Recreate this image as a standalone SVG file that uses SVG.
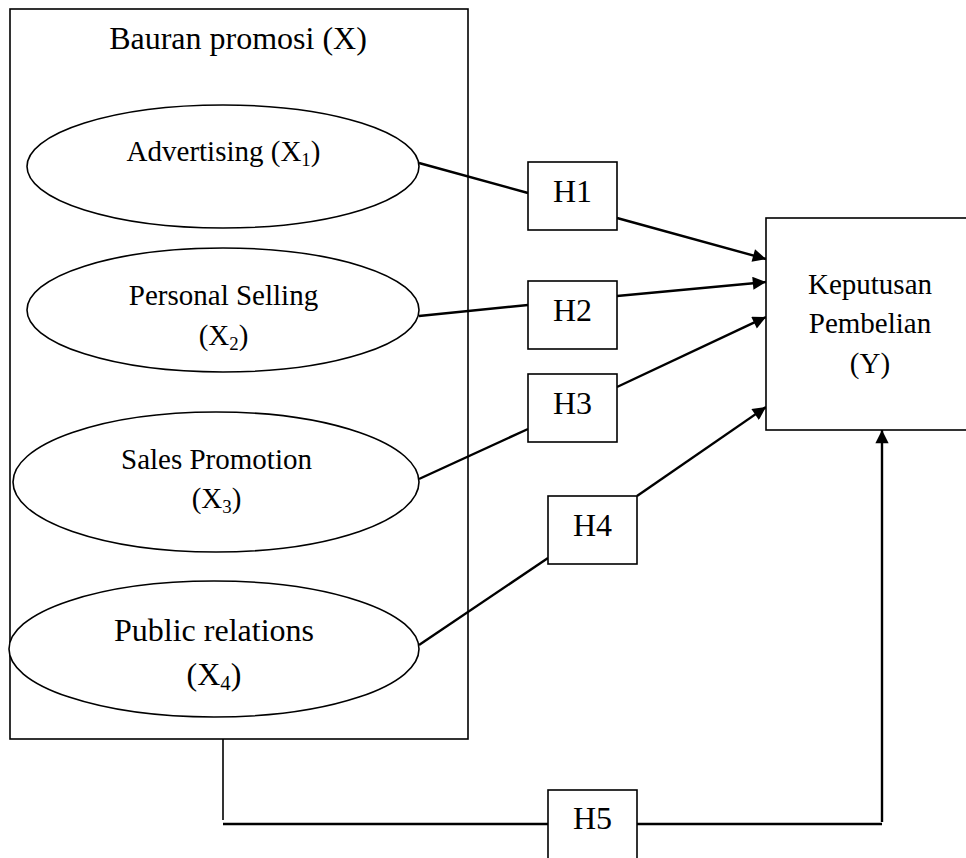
<svg xmlns="http://www.w3.org/2000/svg" width="966" height="858" viewBox="0 0 966 858">
<style>
  text { font-family: "Liberation Serif", "Times New Roman", serif; fill: #000; text-anchor: middle; }
  .box { fill: #fff; stroke: #000; stroke-width: 1.6; }
  .ell { fill: #fff; stroke: #000; stroke-width: 1.6; }
  .con { fill: none; stroke: #000; stroke-width: 2.4; }
  .thin { fill: none; stroke: #000; stroke-width: 1.6; }
  .sub { font-size: 0.65em; }
</style>
<defs>
  <marker id="arrow" viewBox="0 0 10 10" refX="10" refY="5" markerWidth="6" markerHeight="5.5" markerUnits="strokeWidth" orient="auto">
    <path d="M0,0 L10,5 L0,10 z" fill="#000"/>
  </marker>
</defs>
<rect width="966" height="858" fill="#fff"/>

<g id="bauran">
  <rect class="box" x="10" y="9" width="458" height="730"/>
  <text x="238" y="49" font-size="32">Bauran promosi (X)</text>
</g>

<g id="connectors">
  <line class="con" x1="419" y1="163" x2="528" y2="193"/>
  <line class="con" x1="617" y1="218" x2="766" y2="259" marker-end="url(#arrow)"/>
  <line class="con" x1="419" y1="316" x2="528" y2="305"/>
  <line class="con" x1="617" y1="296" x2="766" y2="282" marker-end="url(#arrow)"/>
  <line class="con" x1="419" y1="479" x2="528" y2="429"/>
  <line class="con" x1="617" y1="387" x2="766" y2="317" marker-end="url(#arrow)"/>
  <line class="con" x1="419" y1="645" x2="548" y2="558"/>
  <line class="con" x1="637" y1="496" x2="766" y2="407" marker-end="url(#arrow)"/>
  <line class="thin" x1="223" y1="739" x2="223" y2="820"/>
  <line class="con" x1="223" y1="824" x2="548" y2="824"/>
  <line class="con" x1="637" y1="824" x2="882" y2="824"/>
  <line class="con" x1="882" y1="822" x2="882" y2="430" marker-end="url(#arrow)"/>
</g>

<g id="x1">
  <ellipse class="ell" cx="223" cy="166.5" rx="196" ry="61.5"/>
  <text x="223.5" y="161" font-size="29">Advertising (X<tspan class="sub" dy="5">1</tspan><tspan dy="-5">)</tspan></text>
</g>
<g id="x2">
  <ellipse class="ell" cx="223" cy="310" rx="196" ry="62"/>
  <text x="223.5" y="305" font-size="29">Personal Selling</text>
  <text x="223.5" y="345" font-size="29">(X<tspan class="sub" dy="5">2</tspan><tspan dy="-5">)</tspan></text>
</g>
<g id="x3">
  <ellipse class="ell" cx="216" cy="482" rx="203" ry="70"/>
  <text x="216.5" y="469" font-size="29">Sales Promotion</text>
  <text x="216.5" y="508" font-size="29">(X<tspan class="sub" dy="5">3</tspan><tspan dy="-5">)</tspan></text>
</g>
<g id="x4">
  <ellipse class="ell" cx="214" cy="649" rx="205" ry="68"/>
  <text x="214" y="641" font-size="32">Public relations</text>
  <text x="214" y="685" font-size="32">(X<tspan class="sub" dy="5">4</tspan><tspan dy="-5">)</tspan></text>
</g>

<g id="h1">
  <rect class="box" x="528" y="162" width="89" height="68"/>
  <text x="572.5" y="202" font-size="32">H1</text>
</g>
<g id="h2">
  <rect class="box" x="528" y="281" width="89" height="68"/>
  <text x="572.5" y="321" font-size="32">H2</text>
</g>
<g id="h3">
  <rect class="box" x="528" y="374" width="89" height="68"/>
  <text x="572.5" y="414" font-size="32">H3</text>
</g>
<g id="h4">
  <rect class="box" x="548" y="496" width="89" height="68"/>
  <text x="592.5" y="536" font-size="32">H4</text>
</g>
<g id="h5">
  <rect class="box" x="548" y="790" width="89" height="70"/>
  <text x="592.5" y="829" font-size="32">H5</text>
</g>

<g id="y">
  <rect class="box" x="766" y="218" width="204" height="212"/>
  <text x="870" y="294" font-size="29">Keputusan</text>
  <text x="870" y="333" font-size="29">Pembelian</text>
  <text x="870" y="373" font-size="29">(Y)</text>
</g>
</svg>
